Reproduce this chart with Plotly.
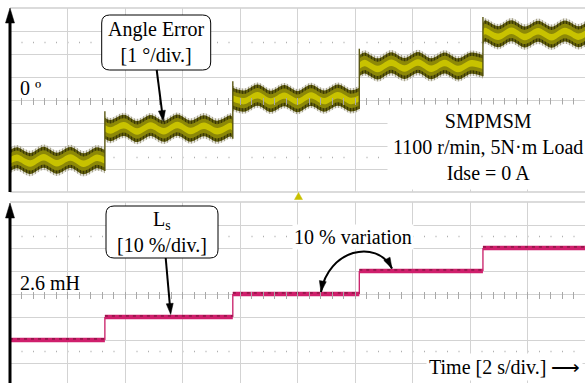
import plotly.graph_objects as go

# ---------------- data ----------------
step_times = [0.0, 3.30, 7.75, 12.15, 16.45, 20.0]          # s
angle_levels = [-2.63, -1.23, 0.07, 1.49, 2.87]              # deg
ls_levels = [2.08, 2.34, 2.60, 2.86, 3.12]                   # mH
wobble_t = [0.24, 0.70, 1.17, 1.63, 2.10, 2.56, 3.03, 3.49, 3.96, 4.42,
            4.89, 5.35, 5.82, 6.28, 6.75, 7.21, 7.68, 8.14, 8.61, 9.07,
            9.54, 10.00, 10.47, 10.93, 11.40, 11.86, 12.33, 12.79, 13.26,
            13.72, 14.19, 14.65, 15.12, 15.58, 16.05, 16.51, 16.98, 17.44,
            17.91, 18.37, 18.84, 19.30, 19.77]
wobble_deg = [0.12, -0.13, 0.14, -0.12, 0.13, -0.14, 0.12, -0.10, 0.13, -0.14,
              0.12, -0.13, 0.14, -0.12, 0.11, -0.13, 0.10, -0.12, 0.14, -0.13,
              0.12, -0.14, 0.13, -0.12, 0.14, -0.11, 0.12, -0.14, 0.13,
              -0.12, 0.14, -0.13, 0.12, -0.14, 0.11, 0.13, -0.12, 0.14,
              -0.13, 0.12, -0.14, 0.13, -0.12]

# ---------------- geometry helpers ----------------
W, H = 585, 383
def px(x):
    return x / W
def py(y):
    return 1 - y / H
def bot_val(ypix):
    return 2.6 + (294 - ypix) / 23 * 0.26

SERIF = "Liberation Serif"
GRID = "#d3d3d3"

fig = go.Figure()

# ---------------- angle error band ----------------
layers = [
    (0.55, "rgba(0,0,0,0)", dict(shape="|", fgcolor="#a8a48c", bgcolor="rgba(0,0,0,0)",
                                 size=3, solidity=0.55, fillmode="replace")),
    (0.46, "#4f4c0a", dict(shape="|", fgcolor="#3a3804", bgcolor="#66630d",
                           size=3, solidity=0.45, fillmode="replace")),
    (0.31, "#8c8807", None),
    (0.14, "#c8c200", None),
]
for i, lvl in enumerate(angle_levels):
    t0, t1 = step_times[i], step_times[i + 1]
    seg_t = [t0]
    seg_c = [lvl]
    for t, w in zip(wobble_t, wobble_deg):
        if t0 < t < t1:
            seg_t.append(t)
            seg_c.append(lvl + w)
    seg_t.append(t1)
    seg_c.append(lvl)
    for hw, col, patt in layers:
        fig.add_trace(go.Scatter(x=seg_t, y=[c - hw for c in seg_c], mode="lines",
                                 line=dict(width=0, shape="spline", color="#56530e"),
                                 hoverinfo="skip", xaxis="x", yaxis="y"))
        kw = dict(fillpattern=patt) if patt else {}
        fig.add_trace(go.Scatter(x=seg_t, y=[c + hw for c in seg_c], mode="lines",
                                 line=dict(width=0, shape="spline", color="#56530e"),
                                 fill="tonexty", fillcolor=col,
                                 hoverinfo="skip", xaxis="x", yaxis="y", **kw))
# transitions
tx_, ty_ = [], []
for i in range(1, len(angle_levels)):
    tx_ += [step_times[i], step_times[i], None]
    ty_ += [angle_levels[i - 1] - 0.46, angle_levels[i] + 0.46 + 0.28, None]
fig.add_trace(go.Scatter(x=tx_, y=ty_, mode="lines", line=dict(color="#5a5712", width=1.4),
                         hoverinfo="skip", xaxis="x", yaxis="y"))

# ---------------- Ls staircase ----------------
hx, hy, vx, vy = [], [], [], []
for i, lvl in enumerate(ls_levels):
    hx += [step_times[i], step_times[i + 1], None]
    hy += [lvl, lvl, None]
    if i > 0:
        vx += [step_times[i], step_times[i], None]
        vy += [ls_levels[i - 1], lvl, None]
fig.add_trace(go.Scatter(x=vx, y=vy, mode="lines", line=dict(color="#c81c66", width=1.3),
                         hoverinfo="skip", xaxis="x2", yaxis="y2"))
fig.add_trace(go.Scatter(x=hx, y=hy, mode="lines", line=dict(color="#cf1f6c", width=4.5),
                         hoverinfo="skip", xaxis="x2", yaxis="y2"))
fig.add_trace(go.Scatter(x=hx, y=[v + 0.012 if v is not None else None for v in hy], mode="lines",
                         line=dict(color="#6a1030", width=1, dash="3px,4px"),
                         hoverinfo="skip", xaxis="x2", yaxis="y2"))

# invisible helpers for tick overlay axes
fig.add_trace(go.Scatter(x=[0], y=[0], mode="markers", marker=dict(opacity=0),
                         hoverinfo="skip", xaxis="x3", yaxis="y"))
fig.add_trace(go.Scatter(x=[0], y=[2.6], mode="markers", marker=dict(opacity=0),
                         hoverinfo="skip", xaxis="x4", yaxis="y2"))

# ---------------- axes ----------------
xdom = [px(10), 1]
common_x = dict(domain=xdom, range=[0, 20], dtick=2, tick0=0, showgrid=True, gridcolor=GRID,
                gridwidth=1, showticklabels=False, ticks="", zeroline=False, showline=False,
                fixedrange=True)
fig.update_layout(
    width=W, height=H, margin=dict(l=0, r=0, t=0, b=0),
    paper_bgcolor="white", plot_bgcolor="white", showlegend=False,
    xaxis=dict(anchor="y", **common_x),
    xaxis2=dict(anchor="y2", **common_x),
    yaxis=dict(domain=[py(192), py(8)], range=[-4, 4], dtick=1, tick0=0, showgrid=True,
               gridcolor=GRID, showticklabels=False, ticks="", zeroline=False, anchor="x"),
    yaxis2=dict(domain=[0, py(202)], range=[bot_val(383), bot_val(202)], dtick=0.26, tick0=2.6,
                showgrid=True, gridcolor=GRID, showticklabels=False, ticks="",
                zeroline=False, anchor="x2"),
    xaxis3=dict(domain=xdom, range=[0, 20], overlaying="x", anchor="free", position=py(100 - 3.5),
                side="bottom", showgrid=False, zeroline=False, showline=False, showticklabels=False,
                ticks="outside", ticklen=7, tickcolor="#a8a8a8", tickwidth=1, dtick=0.4, tick0=0),
    xaxis4=dict(domain=xdom, range=[0, 20], overlaying="x2", anchor="free", position=py(294 - 3.5),
                side="bottom", showgrid=False, zeroline=False, showline=False, showticklabels=False,
                ticks="outside", ticklen=7, tickcolor="#a8a8a8", tickwidth=1, dtick=0.4, tick0=0),
)

shapes = []
# panel borders
for yy in (8, 192, 202):
    shapes.append(dict(type="line", xref="paper", yref="paper", x0=px(10), x1=1, y0=py(yy), y1=py(yy),
                       line=dict(color="#b8b8b8", width=1.2), layer="below"))
# dotted rows
for yv in (2.5, -2.5):
    shapes.append(dict(type="line", xref="x", yref="y", x0=0, x1=20, y0=yv, y1=yv,
                       line=dict(color="#b0b0b0", width=1.5, dash="1px,10.5px"), layer="below"))
for yv in (2.6 + 0.65, 2.6 - 0.65):
    shapes.append(dict(type="line", xref="x2", yref="y2", x0=0, x1=20, y0=yv, y1=yv,
                       line=dict(color="#b0b0b0", width=1.5, dash="1px,10.5px"), layer="below"))


def rrect(x0, y0, x1, y1, r):
    p = (f"M {px(x0 + r)},{py(y0)} L {px(x1 - r)},{py(y0)} Q {px(x1)},{py(y0)} {px(x1)},{py(y0 + r)} "
         f"L {px(x1)},{py(y1 - r)} Q {px(x1)},{py(y1)} {px(x1 - r)},{py(y1)} "
         f"L {px(x0 + r)},{py(y1)} Q {px(x0)},{py(y1)} {px(x0)},{py(y1 - r)} "
         f"L {px(x0)},{py(y0 + r)} Q {px(x0)},{py(y0)} {px(x0 + r)},{py(y0)} Z")
    return dict(type="path", xref="paper", yref="paper", path=p, fillcolor="white",
                line=dict(color="black", width=1), layer="above")


def head(xt, yt, dx, dy, hl, hw):
    L = (dx * dx + dy * dy) ** 0.5
    ux, uy = dx / L, dy / L
    bx, by = xt - ux * hl, yt - uy * hl
    nx, ny = -uy, ux
    p = (f"M {px(xt)},{py(yt)} L {px(bx + nx * hw / 2)},{py(by + ny * hw / 2)} "
         f"L {px(bx - nx * hw / 2)},{py(by - ny * hw / 2)} Z")
    return dict(type="path", xref="paper", yref="paper", path=p, fillcolor="black",
                line=dict(color="black", width=0.5), layer="above")


def arrow(x0, y0, x1, y1, w, hl, hw):
    dx, dy = x1 - x0, y1 - y0
    L = (dx * dx + dy * dy) ** 0.5
    ex, ey = x1 - dx / L * (hl * 0.6), y1 - dy / L * (hl * 0.6)
    return [dict(type="line", xref="paper", yref="paper", x0=px(x0), y0=py(y0), x1=px(ex), y1=py(ey),
                 line=dict(color="black", width=w), layer="above"),
            head(x1, y1, dx, dy, hl, hw)]


shapes.append(rrect(101.7, 15, 210.7, 70, 8))
shapes.append(rrect(106, 206, 218, 258, 8))
shapes += arrow(156.7, 70, 163.3, 121.5, 2, 11, 7)
shapes += arrow(165.7, 258, 170.7, 314.5, 2, 11, 7)
shapes += arrow(10, 192, 10, 8, 3, 15, 9)
shapes += arrow(10, 383, 10, 203, 3, 15, 9)

# curved double arrow
P0, P1, P2, P3 = (321, 292), (328, 250), (376, 238), (392, 268.5)
shapes.append(dict(type="path", xref="paper", yref="paper",
                   path=(f"M {px(P0[0])},{py(P0[1])} C {px(P1[0])},{py(P1[1])} "
                         f"{px(P2[0])},{py(P2[1])} {px(P3[0])},{py(P3[1])}"),
                   line=dict(color="black", width=2), layer="above"))
shapes.append(head(P0[0], P0[1], P0[0] - P1[0], P0[1] - P1[1], 11, 7))
shapes.append(head(P3[0], P3[1], P3[0] - P2[0], P3[1] - P2[1], 11, 7))

# trigger marker
shapes.append(dict(type="path", xref="paper", yref="paper",
                   path=f"M {px(298.5)},{py(192.5)} L {px(302.5)},{py(199.5)} L {px(294.5)},{py(199.5)} Z",
                   fillcolor="#c8c000", line=dict(color="#c8c000", width=0.5)))

fig.update_layout(shapes=shapes)

f20 = dict(family=SERIF, size=20, color="black")
ann = [
    dict(x=px(156.2), y=py(42.5), text="Angle Error<br>[1 °/div.]"),
    dict(x=px(162), y=py(232), text="L<sub>s</sub><br>[10 %/div.]"),
    dict(x=px(18), y=py(88), text="0 º", xanchor="left"),
    dict(x=px(18), y=py(283), text="2.6 mH", xanchor="left"),
    dict(x=px(488), y=py(147), text="SMPMSM<br>1100 r/min, 5N·m Load<br>Idse = 0 A",
         bgcolor="white", borderpad=5),
    dict(x=px(353), y=py(237), text="10 % variation", bgcolor="white", borderpad=1),
    dict(x=px(583), y=py(367), text="Time [2 s/div.] ⟶", xanchor="right", bgcolor="white", borderpad=2),
]
for a in ann:
    a.setdefault("xanchor", "center")
    fig.add_annotation(xref="paper", yref="paper", yanchor="middle", showarrow=False,
                       font=f20, align="center", **a)

fig.write_html("out.html", config={"displayModeBar": False},
               post_script="document.body.style.margin='0';document.body.style.overflow='hidden';")
